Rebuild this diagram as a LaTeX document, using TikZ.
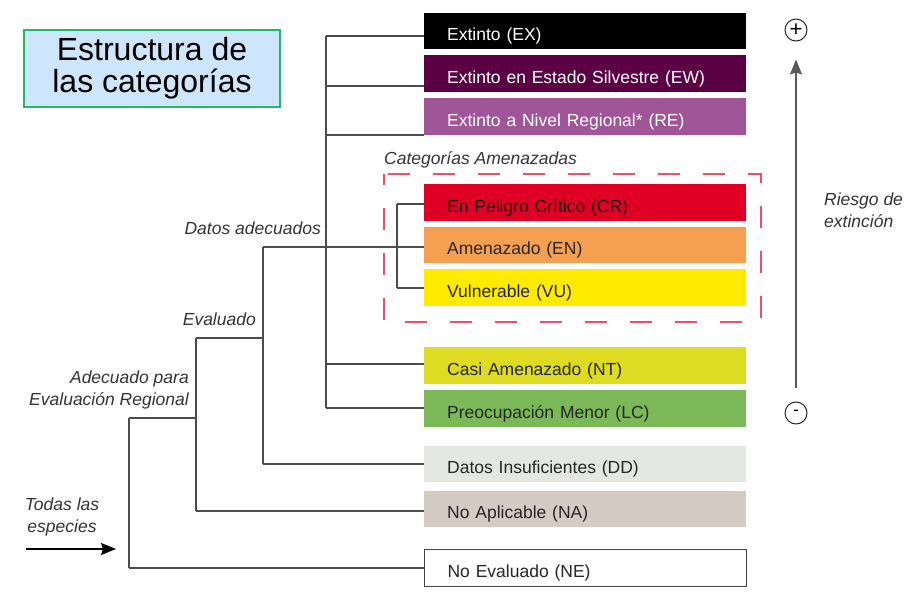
\documentclass[tikz,border=0pt]{standalone}
\usepackage{fontspec}
\setmainfont{Liberation Sans}
\usetikzlibrary{arrows.meta}

\definecolor{colEX}{HTML}{000000}
\definecolor{colEW}{HTML}{5C0044}
\definecolor{colRE}{HTML}{A05598}
\definecolor{colCR}{HTML}{E10025}
\definecolor{colEN}{HTML}{F4A050}
\definecolor{colVU}{HTML}{FFEB00}
\definecolor{colNT}{HTML}{DDDC22}
\definecolor{colLC}{HTML}{7BB857}
\definecolor{colDD}{HTML}{E3E8E2}
\definecolor{colNA}{HTML}{D5CBC2}
\definecolor{azulTit}{HTML}{CDE6FB}
\definecolor{verdeTit}{HTML}{20BB68}
\definecolor{rosaAm}{HTML}{E9506E}

\tikzset{
    cat/.style={anchor=west,minimum height=36.5pt,text width=276pt,inner xsep=23pt,inner ysep=0pt,
        text height=19.5pt,text depth=0pt,align=left,font=\fontsize{17.5}{20}\selectfont,text=black!85},
    lbl/.style={inner sep=0pt,font=\fontsize{17.5}{22}\selectfont\itshape,text=black!80},
    rama/.style={draw=black!70,line width=1.1pt},
    signo/.style={circle,draw=black!85,line width=1pt,minimum size=22pt,inner sep=0pt},
    punta/.style={-{Stealth[length=15pt,width=12pt,inset=2pt]}}
}

\begin{document}
\begin{tikzpicture}[x=1pt,y=-1pt]
        \useasboundingbox (0,0) rectangle (913,592);

        \node[draw=verdeTit,fill=azulTit,line width=2pt,minimum width=256pt,minimum height=77pt,
            align=center,font=\fontsize{32}{32}\selectfont](titulo)at(152,68.5){Estructura de\\las categorías};

        \node[cat,fill=colEX,text=white](EX)at(424,31){Extinto (EX)};
        \node[cat,fill=colEW,text=white](EW)at(424,73.5){Extinto en Estado Silvestre (EW)};
        \node[cat,fill=colRE,text=white](RE)at(424,116.5){Extinto a Nivel Regional* (RE)};
        \node[cat,fill=colCR,text=black!90!red](CR)at(424,202.5){En Peligro Crítico (CR)};
        \node[cat,fill=colEN](EN)at(424,245){Amenazado (EN)};
        \node[cat,fill=colVU](VU)at(424,287.5){Vulnerable (VU)};
        \node[cat,fill=colNT](NT)at(424,365.5){Casi Amenazado (NT)};
        \node[cat,fill=colLC](LC)at(424,408.5){Preocupación Menor (LC)};
        \node[cat,fill=colDD](DD)at(424,464){Datos Insuficientes (DD)};
        \node[cat,fill=colNA](NA)at(424,509){No Aplicable (NA)};
        \node[cat,fill=white,draw=black!75,line width=1.2pt](NE)at(424,568){No Evaluado (NE)};

        \draw[rosaAm,line width=1.6pt,dash pattern=on 22pt off 23pt,dash phase=11pt](384,174)rectangle(761,322);
        \node[lbl,anchor=west](amenazadas)at(384,160){Categorías Amenazadas};

        \coordinate(jEX)at(326,36);
        \coordinate(jEW)at(326,86);
        \coordinate(jRE)at(326,135);
        \coordinate(jNT)at(326,364);
        \coordinate(jLC)at(326,408);
        \coordinate(jCR)at(397,204);
        \coordinate(jVU)at(397,288);
        \coordinate(jEN)at(263,247);
        \coordinate(jDD)at(263,464);
        \coordinate(jEv)at(196,338);
        \coordinate(jNA)at(196,511);
        \coordinate(jAd)at(129,418);
        \coordinate(jNE)at(129,568);

        \draw[rama](jEX)--(jLC);
        \draw[rama](jCR)--(jVU);
        \draw[rama](jEN)--(jDD);
        \draw[rama](jEv)--(jNA);
        \draw[rama](jAd)--(jNE);
        \draw[rama](jEv)--(jEv-|jEN);
        \draw[rama](jAd)--(jAd-|jEv);
        \foreach \n in {EX,EW,RE,NT,LC,CR,VU,EN,DD,NA,NE}
            \draw[rama](j\n)--(j\n-|\n.west);

        \node[lbl,anchor=east](datos)at(321,228){Datos adecuados};
        \node[lbl,anchor=east](evaluado)at(256,319){Evaluado};
        \node[lbl,anchor=east,align=right](adecuado)at(189,389.5){Adecuado para\\Evaluación Regional};
        \node[lbl,align=center](todas)at(62,517){Todas las\\especies};

        \coordinate(flIni)at(26,549);
        \coordinate(flFin)at(116,549);
        \draw[punta,line width=1.3pt](flIni)--(flFin);

        \node[signo,font=\fontsize{22}{22}\selectfont](mas)at(796,30){+};
        \node[signo,font=\fontsize{17.5}{20}\selectfont](menos)at(796,413){-};
        \draw[punta,draw=black!65,fill=black,line width=1.5pt,shorten <=14pt,shorten >=18pt](menos)--(mas);
        \node[lbl,anchor=west,align=left](riesgo)at(824,210){Riesgo de\\extinción};
    \end{tikzpicture}
\end{document}
